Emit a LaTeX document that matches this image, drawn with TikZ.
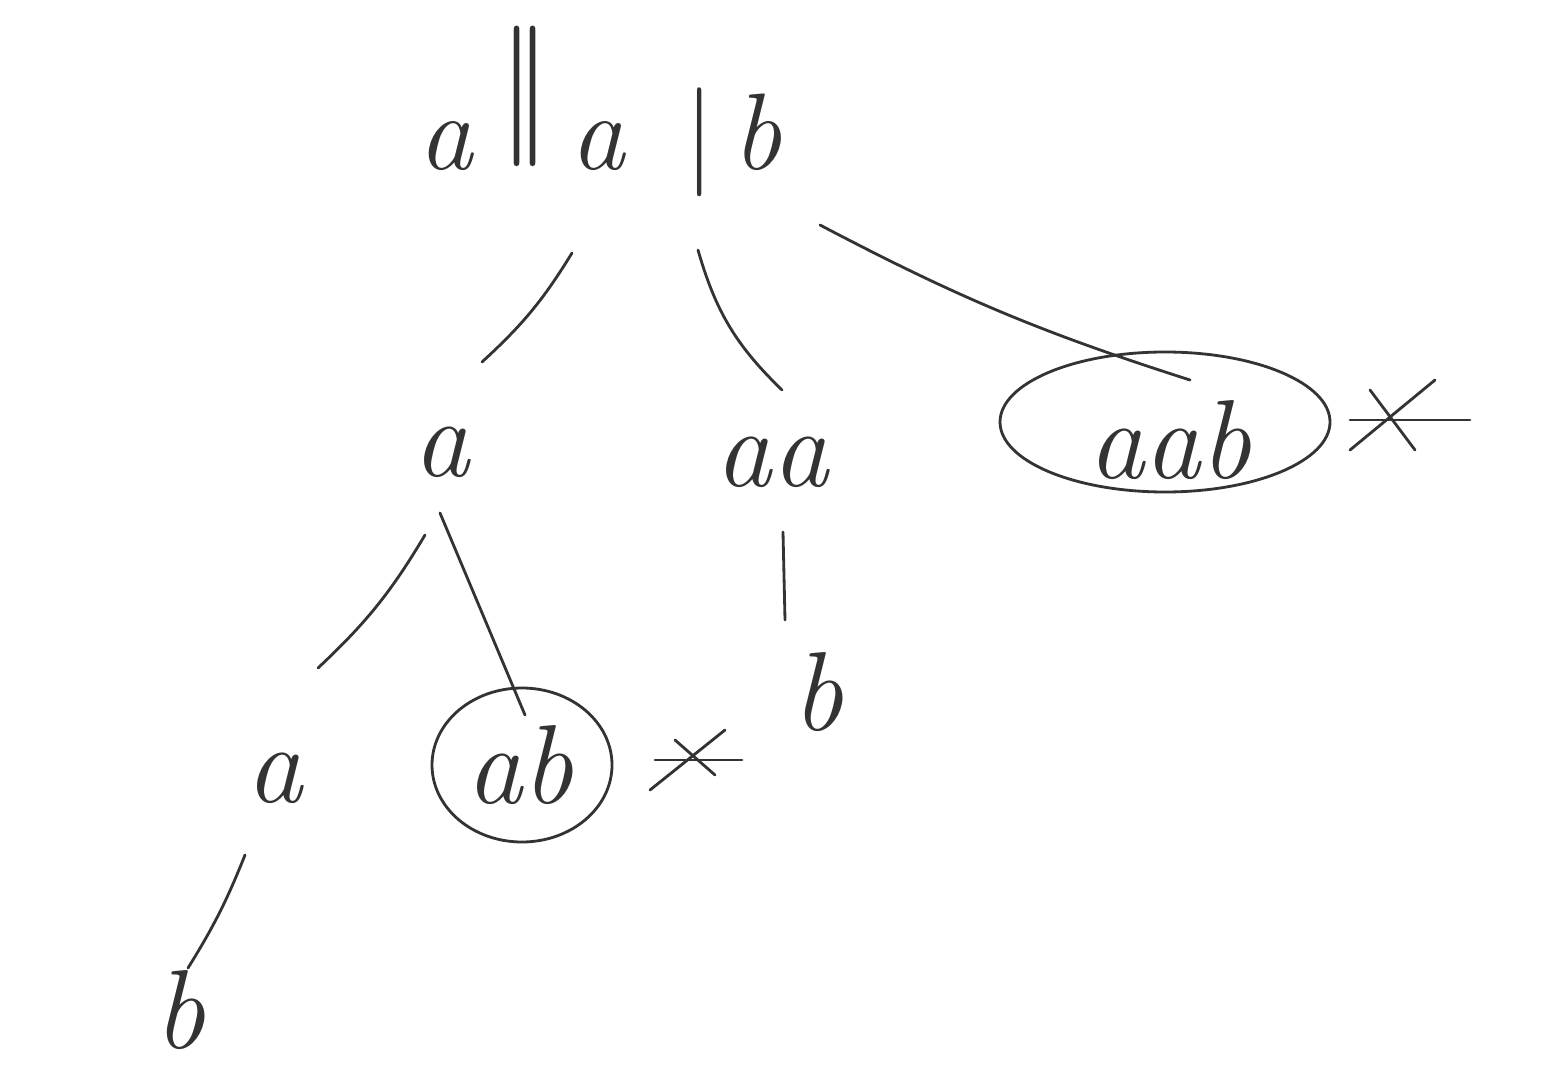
\documentclass[tikz,border=0pt]{standalone}
\usepackage{tikz}
\definecolor{ink}{HTML}{333333}
\begin{document}
\begin{tikzpicture}[x=0.02cm,y=-0.02cm,
  lbl/.style={text=ink,font=\fontsize{64}{70}\selectfont\itshape,inner sep=0pt},
  rootlbl/.style={text=ink,font=\fontsize{62}{68}\selectfont\itshape,inner sep=0pt,anchor=base west},
  edge/.style={draw=ink,line width=1.6pt,line cap=round},
  ring/.style={draw=ink,line width=1.6pt}]
\useasboundingbox[fill=white] (0,0) rectangle (1554,1084);
% nodes
\node[rootlbl] (root) at (418,170) {a\hspace{14pt}\raisebox{22pt}{\fontsize{80}{80}\selectfont\upshape|\hspace{-13pt}|}\hspace{10pt}a\hspace{34pt}{\fontsize{62}{62}\selectfont\upshape|}\hspace{10pt}b};
\node[lbl] (a1) at (442,452) {a};
\node[lbl] (aa) at (772,462) {aa};
\node[lbl] (aab) at (1170,440) {aab};
\node[lbl] (a2) at (275,778) {a};
\node[lbl] (ab) at (520,765) {ab};
\node[lbl] (b1) at (818,692) {b};
\node[lbl] (b2) at (180,1010) {b};
% rings
\draw[ring] (aab.center) ++(-5,-18) ellipse [x radius=165,y radius=70];
\draw[ring] (ab.center) ++(2,0) ellipse [x radius=90,y radius=77];
% endpoints
\coordinate (r1) at (572,253); \coordinate (t1) at (482,362);
\coordinate (r2) at (698,250); \coordinate (t2) at (782,390);
\coordinate (r3) at (820,225); \coordinate (t3) at (1190,380);
\coordinate (s1) at (425,535); \coordinate (u1) at (318,668);
\coordinate (s2) at (440,513); \coordinate (u2) at (525,715);
\coordinate (s3) at (783,532); \coordinate (u3) at (785,620);
\coordinate (s4) at (245,855); \coordinate (u4) at (188,968);
% connectors
\draw[edge] (r1) to[bend left=8] (t1);
\draw[edge] (r2) to[bend right=15] (t2);
\draw[edge] (r3) to[bend right=5] (t3);
\draw[edge] (s1) to[bend left=8] (u1);
\draw[edge] (s2) -- (u2);
\draw[edge] (s3) -- (u3);
\draw[edge] (s4) to[bend left=5] (u4);
% crosses
\coordinate (x1) at (1395,420);
\draw[edge] (x1) ++(-45,0) -- (1470,420);
\draw[edge] (x1) ++(-45,30) -- ++(85,-70);
\draw[edge] (x1) ++(-25,-30) -- ++(45,60);
\coordinate (x2) at (690,760);
\draw[edge] (x2) ++(-35,0) -- (742,760);
\draw[edge] (x2) ++(-40,30) -- ++(75,-60);
\draw[edge] (x2) ++(-15,-20) -- ++(40,35);
\end{tikzpicture}
\end{document}
